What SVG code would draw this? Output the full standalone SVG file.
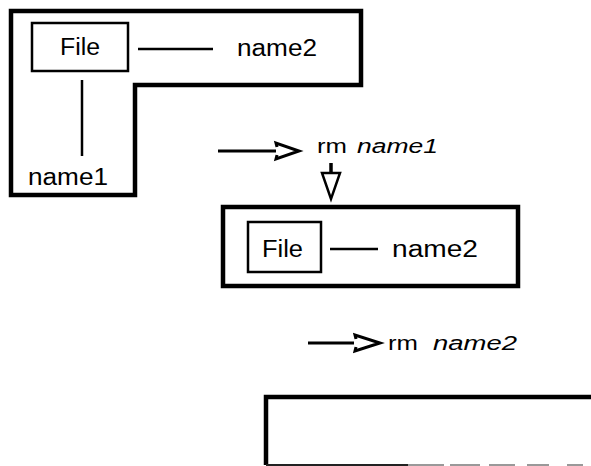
<svg xmlns="http://www.w3.org/2000/svg" width="591" height="466" viewBox="0 0 591 466">
<style>
.frame{fill:none;stroke:#000;stroke-width:4.5;stroke-linejoin:miter}
.box{fill:none;stroke:#000;stroke-width:2.5}
.ln{fill:none;stroke:#000;stroke-width:2.5}
.arr{fill:none;stroke:#000;stroke-width:3}
.t{font-family:"Liberation Sans",Arial,Helvetica,sans-serif;font-size:23px;fill:#000}
.c{font-family:"Liberation Sans",Arial,Helvetica,sans-serif;font-size:20px;fill:#000}
.i{font-style:italic}
</style>
<rect width="591" height="466" fill="#fff"/>
<g id="state1">
<path class="frame" d="M11,11 H361 V85 H135 V195 H11 Z"/>
<g id="file1">
<rect class="box" x="32" y="23" width="96" height="48"/>
<text class="t" x="60" y="55" textLength="40" lengthAdjust="spacingAndGlyphs">File</text>
</g>
<text id="name2a" class="t" x="237" y="56" textLength="80" lengthAdjust="spacingAndGlyphs">name2</text>
<text id="name1a" class="t" x="28" y="185" textLength="80" lengthAdjust="spacingAndGlyphs">name1</text>
</g>
<g id="cmd1">
<text class="c" x="317" y="153" textLength="30" lengthAdjust="spacingAndGlyphs">rm</text>
<text class="c i" x="357" y="153" textLength="81" lengthAdjust="spacingAndGlyphs">name1</text>
</g>
<g id="state2">
<rect class="frame" x="223" y="207" width="295" height="79"/>
<g id="file2">
<rect class="box" x="248" y="222" width="73" height="50"/>
<text class="t" x="262" y="257" font-size="24" textLength="41" lengthAdjust="spacingAndGlyphs">File</text>
</g>
<text id="name2b" class="t" x="392" y="257" textLength="86" lengthAdjust="spacingAndGlyphs">name2</text>
</g>
<g id="cmd2">
<text class="c" x="388" y="350" textLength="30" lengthAdjust="spacingAndGlyphs">rm</text>
<text class="c i" x="433" y="350" textLength="84" lengthAdjust="spacingAndGlyphs">name2</text>
</g>
<g id="state3">
<path class="frame" d="M591,397 H266 V465"/>
<line x1="266" y1="465" x2="408" y2="465" stroke="#222" stroke-width="2"/>
<line x1="408" y1="465" x2="591" y2="465" stroke="#999" stroke-width="2" stroke-dasharray="36 6 30 9 26 12 22 18 16"/>
</g>
<g id="connectors">
<line class="ln" x1="138" y1="49" x2="213" y2="49"/>
<line class="ln" x1="82" y1="80" x2="82" y2="156"/>
<line class="ln" x1="330" y1="249" x2="378" y2="249"/>
<line class="arr" x1="218" y1="151" x2="276" y2="151"/>
<path class="arr" d="M277,147 L276,143 L299,151 L276,159 L277,155"/>
<line class="arr" x1="308" y1="343" x2="354" y2="343"/>
<path class="arr" d="M356,339 L355,335 L380,343 L355,351 L356,347"/>
<line x1="331" y1="163" x2="331" y2="174" stroke="#000" stroke-width="3.5"/>
<path class="ln" stroke-width="2" d="M322,173 H340 L331,199 Z"/>
</g>
</svg>
